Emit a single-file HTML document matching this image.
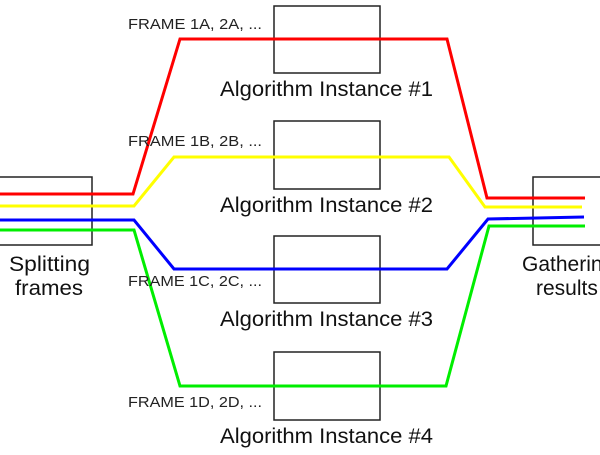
<!DOCTYPE html>
<html><head><style>body{margin:0;background:#fff}</style></head><body>
<svg width="600" height="450" xmlns="http://www.w3.org/2000/svg" font-family="Liberation Sans, sans-serif">
<rect width="600" height="450" fill="#fff"/>
<g fill="none" stroke="#222" stroke-width="1.5">
<rect x="-2" y="177" width="94" height="68"/>
<rect x="533" y="177" width="80" height="68"/>
<rect x="274" y="6" width="106" height="67"/>
<rect x="274" y="121" width="106" height="68"/>
<rect x="274" y="236" width="106" height="67"/>
<rect x="274" y="352" width="106" height="68"/>
</g>
<g fill="none" stroke-width="3" stroke-linejoin="miter">
<polyline stroke="#ff0000" points="0,194 133,194 180,39 447,39 487,198 585,198"/>
<polyline stroke="#ffff00" points="0,206 134,206 174,157 449,157 485,207 582,207"/>
<polyline stroke="#0000ff" points="0,220 134,220 174,269 447,269 488,219 584,217"/>
<polyline stroke="#00ee00" points="0,230 134,230 180,386 446,386 489,226 585,226"/>
</g>
<g fill="#222" font-size="15">
<text x="128" y="29" textLength="134" lengthAdjust="spacingAndGlyphs">FRAME 1A, 2A, ...</text>
<text x="128" y="146" textLength="134" lengthAdjust="spacingAndGlyphs">FRAME 1B, 2B, ...</text>
<text x="128" y="286" textLength="134" lengthAdjust="spacingAndGlyphs">FRAME 1C, 2C, ...</text>
<text x="128" y="407" textLength="134" lengthAdjust="spacingAndGlyphs">FRAME 1D, 2D, ...</text>
</g>
<g fill="#111" font-size="21">
<text x="220" y="96" textLength="213" lengthAdjust="spacingAndGlyphs">Algorithm Instance #1</text>
<text x="220" y="212" textLength="213" lengthAdjust="spacingAndGlyphs">Algorithm Instance #2</text>
<text x="220" y="326" textLength="213" lengthAdjust="spacingAndGlyphs">Algorithm Instance #3</text>
<text x="220" y="443" textLength="213" lengthAdjust="spacingAndGlyphs">Algorithm Instance #4</text>
<text x="9" y="271" textLength="81" lengthAdjust="spacingAndGlyphs">Splitting</text>
<text x="15" y="295" textLength="68" lengthAdjust="spacingAndGlyphs">frames</text>
<text x="522" y="271">Gathering</text>
<text x="536" y="295">results</text>
</g>
</svg>
</body></html>
